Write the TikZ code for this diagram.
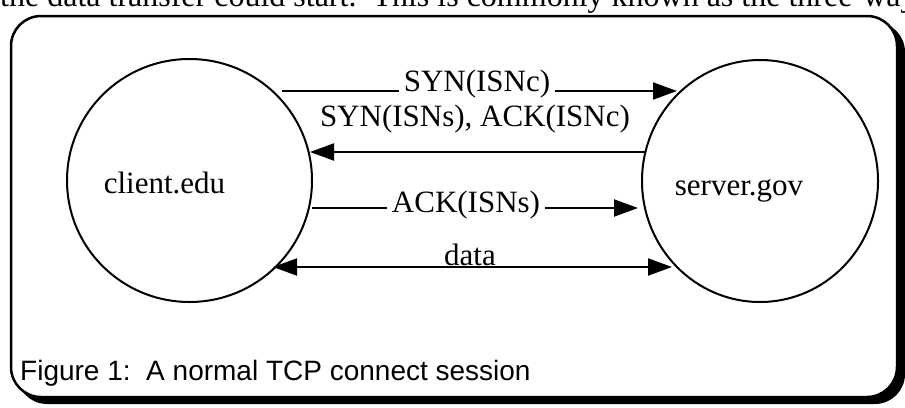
\documentclass[tikz,border=0pt]{standalone}
\usepackage{fontspec}
\setmainfont{Liberation Serif}
\newfontfamily\capfont{Liberation Sans}
\usetikzlibrary{arrows.meta,shapes.geometric}
\begin{document}
\begin{tikzpicture}[x=1pt,y=-1pt,
  host/.style={draw, line width=2pt, ellipse, inner sep=0pt},
  msg/.style={line width=2pt, -{Triangle[length=24pt,width=17pt]}},
  bimsg/.style={line width=2pt, {Triangle[length=24pt,width=17pt]}-{Triangle[length=24pt,width=17pt]}},
  txt/.style={font=\fontsize{31}{37}\selectfont, anchor=base, inner sep=0pt},
  lbl/.style={txt, fill=white, inner xsep=5pt, inner ysep=4pt},
  framebox/.style={line width=2.5pt, rounded corners=30pt}]
\useasboundingbox (0,0) rectangle (905,407);
% clipped body text line above the figure
\begin{scope}
  \clip (0,0) rectangle (905,407);
  \node[font=\fontsize{32}{38}\selectfont, anchor=base west, inner sep=0pt] (body) at (0,6)
    {the data transfer could start.\ \ This is commonly known as the three-way};
\end{scope}
% frame with drop shadow
\fill[black, rounded corners=30pt] (17,22) rectangle (905,404);
\draw[framebox, fill=white] (11,16) rectangle (897,397);
% hosts
\node[host, minimum width=245pt, minimum height=243pt] (client) at (189.5,180.5) {};
\node[host, minimum width=236pt, minimum height=242pt] (server) at (760,181) {};
\node[txt] (clientname) at (164.5,193) {client.edu};
\node[txt] (servername) at (739,195) {server.gov};
% message end points
\coordinate (m1s) at (282,91);  \coordinate (m1e) at (677,91);
\coordinate (m2s) at (645,152); \coordinate (m2e) at (310,152);
\coordinate (m3s) at (312,208); \coordinate (m3e) at (638,208);
\coordinate (m4s) at (273,267); \coordinate (m4e) at (672,267);
% messages
\draw[msg] (m1s) -- (m1e);
\node[lbl] (l1) at (477,91) {SYN(ISNc)};
\node[txt] (l2) at (475,126) {SYN(ISNs), ACK(ISNc)};
\draw[msg] (m2s) -- (m2e);
\draw[msg] (m3s) -- (m3e);
\node[lbl] (l3) at (466,212) {ACK(ISNs)};
\draw[bimsg] (m4s) -- (m4e);
\node[txt] (l4) at (470,265) {data};
% caption
\node[font=\capfont\fontsize{28}{33}\selectfont, anchor=base west, inner sep=0pt] (caption) at (20,380)
  {Figure 1:\ \ A normal TCP connect session};
\end{tikzpicture}
\end{document}
